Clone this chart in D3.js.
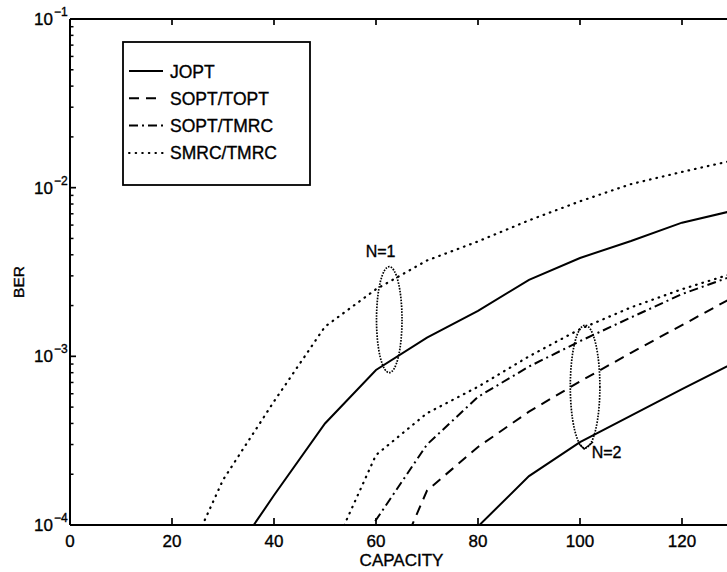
<!DOCTYPE html>
<html>
<head>
<meta charset="utf-8">
<script src="https://cdn.jsdelivr.net/npm/d3@7"></script>
<style>
  html, body { margin: 0; padding: 0; background: #fff; }
  svg { display: block; font-family: "Liberation Sans", Arial, sans-serif; }
  svg text { stroke: #000; stroke-width: 0.35px; }
</style>
</head>
<body>
<svg id="chart" width="727" height="572"></svg>
<script>
// ---------------- data ----------------
const capacity = [20, 30, 40, 50, 60, 70, 80, 90, 100, 110, 120, 130];

// N = 1
const joptN1     = [null, 5.4e-5, 1.5e-4, 4.0e-4, 8.3e-4, 1.29e-3, 1.86e-3, 2.84e-3, 3.83e-3, 4.83e-3, 6.2e-3, 7.3e-3];
const smrcTmrcN1 = [4e-5, 1.85e-4, 5.4e-4, 1.5e-3, 2.5e-3, 3.7e-3, 4.8e-3, 6.4e-3, 8.3e-3, 1.05e-2, 1.24e-2, 1.45e-2];
// N = 2
const joptN2     = [null, null, null, null, null, 4.8e-5, 9.8e-5, 1.95e-4, 3.1e-4, 4.45e-4, 6.4e-4, 9.1e-4];
const soptToptN2 = [null, null, null, null, 3.2e-5, 1.6e-4, 2.9e-4, 4.7e-4, 7.1e-4, 1.05e-3, 1.53e-3, 2.24e-3];
const soptTmrcN2 = [null, null, null, 3.5e-5, 1.07e-4, 3.0e-4, 5.75e-4, 8.7e-4, 1.23e-3, 1.7e-3, 2.34e-3, 3.0e-3];
const smrcTmrcN2 = [null, null, null, 5.6e-5, 2.6e-4, 4.6e-4, 6.6e-4, 1.0e-3, 1.45e-3, 1.95e-3, 2.5e-3, 3.1e-3];

const legendLabels = ["JOPT", "SOPT/TOPT", "SOPT/TMRC", "SMRC/TMRC"];
const xTicks = [0, 20, 40, 60, 80, 100, 120];
const yTickExps = [-4, -3, -2, -1];

// annotation groups: center capacity, top & bottom BER, half width (capacity units)
const groupNames   = ["N=1", "N=2"];
const groupCenterX = [62.6, 101];
const groupTopY    = [3.4e-3, 1.53e-3];
const groupBottomY = [8.0e-4, 2.86e-4];
const groupHalfW   = [2.5, 2.9];
const groupLabelX  = [60.9, 102.3];
const groupLabelY  = [3.9e-3, 2.5e-4];

(function () {
// ---------------- layout ----------------
const svg = d3.select("#chart");
const pLeft = 70, pRight = 733, pTop = 19, pBottom = 525;

const x = d3.scaleLinear().domain([0, 130]).range([pLeft, pRight]);
const y = d3.scaleLog().domain([1e-4, 1e-1]).range([pBottom, pTop]);

const styles = {
  "JOPT": null,
  "SOPT/TOPT": "10,7",
  "SOPT/TMRC": "9,4,2,4",
  "SMRC/TMRC": "0.6,6"
};

svg.append("defs").append("clipPath").attr("id", "plotclip")
  .append("rect").attr("x", pLeft).attr("y", pTop)
  .attr("width", pRight - pLeft).attr("height", pBottom - pTop);

// ---------------- series ----------------
const series = [
  { name: "SMRC/TMRC", values: smrcTmrcN1 },
  { name: "JOPT", values: joptN1 },
  { name: "SMRC/TMRC", values: smrcTmrcN2 },
  { name: "SOPT/TMRC", values: soptTmrcN2 },
  { name: "SOPT/TOPT", values: soptToptN2 },
  { name: "JOPT", values: joptN2 }
];

const line = d3.line()
  .defined(d => d[1] != null)
  .x(d => x(d[0]))
  .y(d => y(d[1]));

const plot = svg.append("g").attr("clip-path", "url(#plotclip)");
series.forEach(s => {
  const pts = capacity.map((c, i) => [c, s.values[i]]);
  plot.append("path")
    .attr("d", line(pts))
    .attr("fill", "none")
    .attr("stroke", "#000")
    .attr("stroke-width", s.name === "SMRC/TMRC" ? 2.2 : 2)
    .attr("stroke-linecap", s.name === "SMRC/TMRC" ? "round" : "butt")
    .attr("stroke-dasharray", styles[s.name]);
});

// ---------------- annotation ellipses ----------------
groupNames.forEach((g, i) => {
  const cx = x(groupCenterX[i]);
  const yt = y(groupTopY[i]), yb = y(groupBottomY[i]);
  const rx = x(groupCenterX[i] + groupHalfW[i]) - cx;
  plot.append("ellipse")
    .attr("cx", cx).attr("cy", (yt + yb) / 2)
    .attr("rx", rx).attr("ry", (yb - yt) / 2)
    .attr("fill", "none").attr("stroke", "#000")
    .attr("stroke-width", 1.7).attr("stroke-dasharray", "1.6,1.3");
  svg.append("text")
    .attr("x", x(groupLabelX[i])).attr("y", y(groupLabelY[i]))
    .attr("text-anchor", i === 0 ? "middle" : "start")
    .attr("font-size", 16).attr("fill", "#000").text(g);
});
// small pointer from N=2 ellipse to its label
{
  const cx = x(groupCenterX[1]), yb = y(groupBottomY[1]);
  svg.append("path")
    .attr("d", `M${cx - 6},${yb - 4} L${cx - 1},${yb + 1} L${cx + 8},${yb - 6}`)
    .attr("fill", "none").attr("stroke", "#000").attr("stroke-width", 1.4);
}

// ---------------- axes ----------------
const axisW = 2;
svg.append("line").attr("x1", pLeft).attr("x2", pLeft).attr("y1", pTop).attr("y2", pBottom)
  .attr("stroke", "#000").attr("stroke-width", axisW);
svg.append("line").attr("x1", pLeft).attr("x2", pRight).attr("y1", pBottom).attr("y2", pBottom)
  .attr("stroke", "#000").attr("stroke-width", axisW);
svg.append("line").attr("x1", pLeft).attr("x2", pRight).attr("y1", pTop).attr("y2", pTop)
  .attr("stroke", "#000").attr("stroke-width", axisW);

// x ticks (bottom + top, inward) and labels
xTicks.forEach(t => {
  const px = x(t);
  svg.append("line").attr("x1", px).attr("x2", px).attr("y1", pBottom).attr("y2", pBottom - 7)
    .attr("stroke", "#000").attr("stroke-width", 1.7);
  svg.append("line").attr("x1", px).attr("x2", px).attr("y1", pTop).attr("y2", pTop + 6)
    .attr("stroke", "#000").attr("stroke-width", 1.7);
  svg.append("text").attr("x", px).attr("y", 547).attr("text-anchor", "middle")
    .attr("font-size", 17).attr("fill", "#000").text(t);
});

// y ticks: major + minor
yTickExps.forEach(e => {
  const py = y(Math.pow(10, e));
  svg.append("line").attr("x1", pLeft).attr("x2", pLeft + 6).attr("y1", py).attr("y2", py)
    .attr("stroke", "#000").attr("stroke-width", 1.7);
  svg.append("text").attr("x", 53).attr("y", py + 6).attr("text-anchor", "end")
    .attr("font-size", 17).attr("fill", "#000").text("10");
  svg.append("text").attr("x", 54).attr("y", py - 3)
    .attr("font-size", 12).attr("fill", "#000").text("\u2212" + Math.abs(e));
  if (e < -1) {
    for (let m = 2; m <= 9; m++) {
      const pm = y(m * Math.pow(10, e));
      svg.append("line").attr("x1", pLeft).attr("x2", pLeft + 3.5).attr("y1", pm).attr("y2", pm)
        .attr("stroke", "#000").attr("stroke-width", 1.5);
    }
  }
});

// axis titles
svg.append("text").attr("x", (pLeft + pRight) / 2).attr("y", 566).attr("text-anchor", "middle")
  .attr("font-size", 17).attr("fill", "#000").text("CAPACITY");
svg.append("text").attr("transform", `translate(24,${(pTop + pBottom) / 2 + 10}) rotate(-90)`)
  .attr("text-anchor", "middle").attr("font-size", 15.5).attr("fill", "#000").text("BER");

// ---------------- legend ----------------
const lg = svg.append("g");
lg.append("rect").attr("x", 123).attr("y", 42).attr("width", 187).attr("height", 143)
  .attr("fill", "#fff").attr("stroke", "#000").attr("stroke-width", 1.8);
legendLabels.forEach((name, i) => {
  const ly = 71 + i * 27.3;
  lg.append("line").attr("x1", 129).attr("x2", 163).attr("y1", ly).attr("y2", ly)
    .attr("stroke", "#000").attr("stroke-width", 2)
    .attr("stroke-linecap", name === "SMRC/TMRC" ? "round" : "butt")
    .attr("stroke-dasharray", styles[name]);
  lg.append("text").attr("x", 170).attr("y", ly + 6.5)
    .attr("font-size", 17.5).attr("fill", "#000").text(name);
});
})();
</script>
</body>
</html>
